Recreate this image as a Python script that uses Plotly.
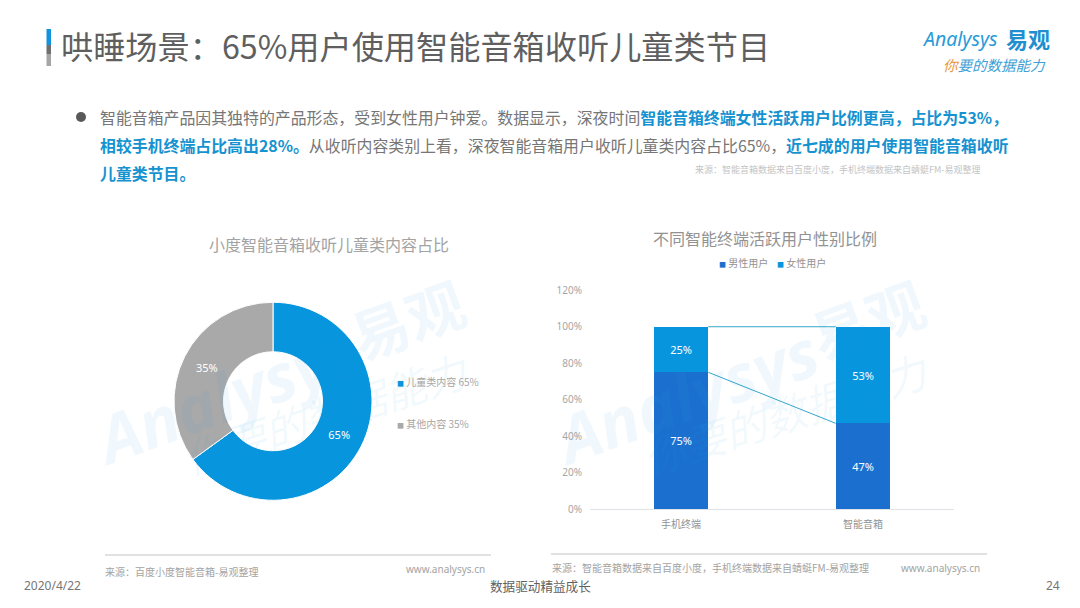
import plotly.graph_objects as go

W, H = 1080, 608
CJK = "Noto Sans CJK SC"
LATIN = "Noto Sans, Noto Sans CJK SC"

# chart data
pie_labels = ["儿童类内容", "其他内容"]
pie_values = [65, 35]
bar_categories = ["手机终端", "智能音箱"]
male_values = [75, 47]
female_values = [25, 53]
y_ticks = [0, 20, 40, 60, 80, 100, 120]

# colours
BLUE = "#0795dd"
DARK_BLUE = "#1b70cf"
GREY = "#a9a9a9"
LINK = "#35a6c9"
HILITE = "#1592cf"
TEXT = "#767676"
WATERMARK = "rgba(40,160,225,0.07)"


def px(x):
    return x / W


def py(y):
    return 1 - y / H


fig = go.Figure()

# donut
fig.add_trace(go.Pie(
    labels=pie_labels,
    values=pie_values,
    hole=0.5,
    sort=False,
    direction="clockwise",
    rotation=0,
    domain=dict(x=[px(174), px(372)], y=[py(500.5), py(302)]),
    marker=dict(colors=[BLUE, GREY], line=dict(color="white", width=1)),
    textinfo="percent",
    textposition="inside",
    insidetextorientation="horizontal",
    textfont=dict(color="white", size=11, family=LATIN),
    showlegend=False,
))

# stacked bars
fig.add_trace(go.Bar(
    x=list(range(len(bar_categories))), y=male_values, name="男性用户", width=0.3,
    marker=dict(color=DARK_BLUE, line_width=0), text=[f"{v}%" for v in male_values],
    textposition="inside", insidetextanchor="middle", textangle=0,
    textfont=dict(color="white", size=11, family=LATIN), showlegend=False,
))
fig.add_trace(go.Bar(
    x=list(range(len(bar_categories))), y=female_values, name="女性用户", width=0.3,
    marker=dict(color=BLUE, line_width=0), text=[f"{v}%" for v in female_values],
    textposition="inside", insidetextanchor="middle", textangle=0,
    textfont=dict(color="white", size=11, family=LATIN), showlegend=False,
))

# series lines between the two bars
fig.add_trace(go.Scatter(
    x=[0.15, 0.85], y=male_values, mode="lines",
    line=dict(color=LINK, width=1), showlegend=False, hoverinfo="skip",
))
fig.add_trace(go.Scatter(
    x=[0.15, 0.85], y=[m + f for m, f in zip(male_values, female_values)], mode="lines",
    line=dict(color=LINK, width=1), showlegend=False, hoverinfo="skip",
))

annotations = []


def add_text(x, y, text, size, color=TEXT, anchor="left", family=CJK, angle=0):
    annotations.append(dict(
        x=px(x), y=py(y), xref="paper", yref="paper", text=text, showarrow=False,
        xanchor=anchor, yanchor="middle", textangle=angle,
        font=dict(size=size, color=color, family=family),
    ))


def hi(s):
    return f'<b><span style="color:{HILITE}">{s}</span></b>'


def swatch(color):
    return f'<span style="color:{color};font-size:7px">■</span>'


# header
add_text(59, 45, "哄睡场景：65%用户使用智能音箱收听儿童类节目", 32.2, "#5f5f5f")
add_text(98, 117, "智能音箱产品因其独特的产品形态，受到女性用户钟爱。数据显示，深夜时间"
         + hi("智能音箱终端女性活跃用户比例更高，占比为53%，"), 15.9)
add_text(98, 146, hi("相较手机终端占比高出28%。") + "从收听内容类别上看，深夜智能音箱用户收听儿童类内容占比65%，"
         + hi("近七成的用户使用智能音箱收听"), 15.9)
add_text(98, 174, hi("儿童类节目。"), 15.9)
add_text(693, 169, "来源：智能音箱数据来自百度小度，手机终端数据来自蜻蜓FM-易观整理", 9, "#c4c4c4")

# logo
add_text(920, 38, "<i>Analysys</i>", 19.5, "#2a9bd8", family=LATIN)
add_text(1004, 38, "<b>易观</b>", 22, "#1f8fd0")
add_text(941, 64, '<i><span style="color:#e8963c">你</span>要的数据能力</i>', 14.5, "#3f9fd6")

# watermarks
for dx in [0, 460]:
    add_text(407 + dx, 318, "<b>易观</b>", 58, WATERMARK, anchor="center", angle=-20)
    add_text(225 + dx, 395, "<b><i>Analysys</i></b>", 66, WATERMARK, anchor="center", family=LATIN, angle=-20)
    add_text(325 + dx, 412, "<i>你要的数据能力</i>", 42, WATERMARK, anchor="center", angle=-18)

# chart titles and legends
add_text(329, 244, "小度智能音箱收听儿童类内容占比", 16, "#a3a3a3", anchor="center")
add_text(765, 238, "不同智能终端活跃用户性别比例", 16, "#929292", anchor="center")
add_text(395, 381, f'{swatch(BLUE)} {pie_labels[0]} {pie_values[0]}%', 10, "#a6a6a6")
add_text(395, 423, f'{swatch(GREY)} {pie_labels[1]} {pie_values[1]}%', 10, "#a6a6a6")
add_text(717, 262, f'{swatch(DARK_BLUE)} 男性用户', 10, "#929292")
add_text(775, 262, f'{swatch(BLUE)} 女性用户', 10, "#929292")

# footer
add_text(103, 571, "来源：百度小度智能音箱-易观整理", 10, "#a3a3a3")
add_text(404, 569, "www.analysys.cn", 10, "#a3a3a3", family=LATIN)
add_text(550, 567, "来源：智能音箱数据来自百度小度，手机终端数据来自蜻蜓FM-易观整理", 10, "#a3a3a3")
add_text(899, 568, "www.analysys.cn", 10, "#a3a3a3", family=LATIN)
add_text(22, 585, "2020/4/22", 12, "#767676", family=LATIN)
add_text(488, 585, "数据驱动精益成长", 12.6, "#5f5f5f")
add_text(1044, 585, "24", 12, "#767676", family=LATIN)


def rect(x0, y0, x1, y1, color):
    return dict(type="rect", xref="paper", yref="paper", x0=px(x0), x1=px(x1),
                y0=py(y1), y1=py(y0), fillcolor=color, line_width=0, layer="below")


shapes = [
    rect(46.5, 29, 51, 45, "#1493dc"),
    rect(46.5, 45, 51, 54, "#6f6f6f"),
    rect(46.5, 54, 51, 66, "#a5a5a5"),
    rect(105, 554.5, 491, 555.5, "#c4c4c4"),
    rect(551, 553.5, 987, 554.5, "#c4c4c4"),
    dict(type="circle", xref="paper", yref="paper", x0=px(76), x1=px(86),
         y0=py(122), y1=py(112), fillcolor="#595959", line_width=0),
]

fig.update_layout(
    width=W,
    height=H,
    margin=dict(l=0, r=0, t=0, b=0),
    paper_bgcolor="white",
    plot_bgcolor="rgba(0,0,0,0)",
    barmode="stack",
    showlegend=False,
    font=dict(family=CJK),
    annotations=annotations,
    shapes=shapes,
    xaxis=dict(
        domain=[px(590), px(954)],
        range=[-0.5, 1.5],
        tickvals=list(range(len(bar_categories))),
        ticktext=bar_categories,
        automargin=False,
        showgrid=False,
        zeroline=False,
        showline=True,
        linecolor="#dfe3e8",
        linewidth=1,
        ticklabelstandoff=6,
        tickfont=dict(size=10, color="#929292", family=CJK),
    ),
    yaxis=dict(
        domain=[py(509), py(290.3)],
        range=[0, 120],
        tickvals=y_ticks,
        ticktext=[f"{t}%" for t in y_ticks],
        automargin=False,
        showgrid=False,
        zeroline=False,
        showline=False,
        ticklabelstandoff=7,
        tickfont=dict(size=10, color="#a6a6a6", family=LATIN),
    ),
)

fig.write_html(
    "out.html",
    config=dict(displayModeBar=False),
    post_script="document.body.style.margin='0';document.body.style.overflow='hidden';",
)
